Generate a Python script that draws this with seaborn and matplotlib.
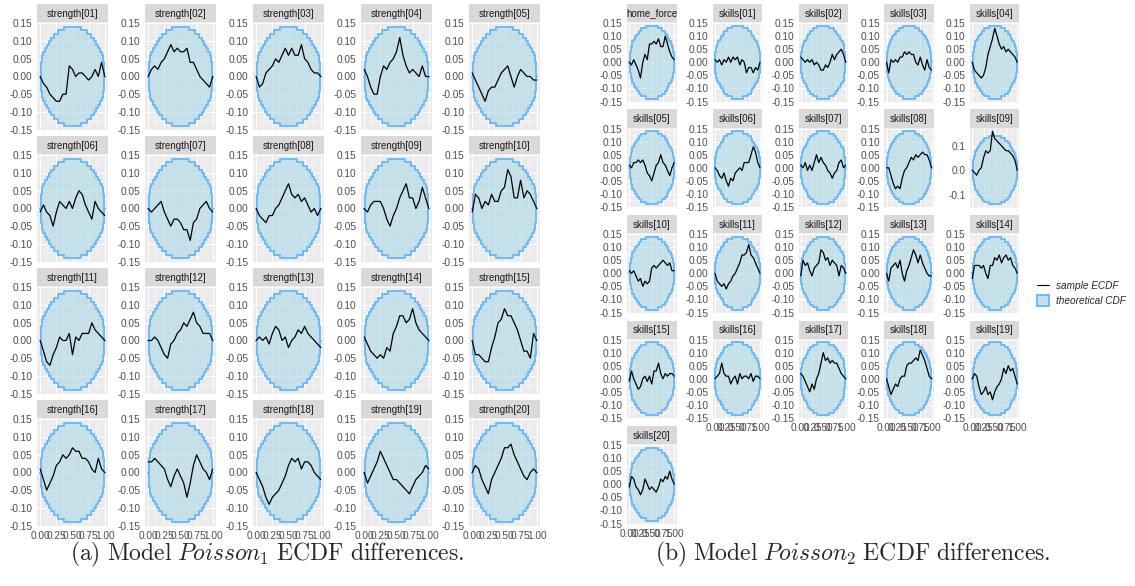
import numpy as np
import pandas as pd
import matplotlib
matplotlib.use("Agg")
import matplotlib.pyplot as plt
from matplotlib.lines import Line2D
from matplotlib.patches import Patch
import seaborn as sns

# quantile positions at which the ECDF differences were read
x_grid = [0.00, 0.05, 0.10, 0.15, 0.20, 0.25, 0.30, 0.35, 0.40, 0.45, 0.50,
          0.55, 0.60, 0.65, 0.70, 0.75, 0.80, 0.85, 0.90, 0.95, 1.00]

# upper edge of the theoretical CDF band (lower edge is the mirror)
band_x = np.linspace(0, 1, 51)
band_upper = [0.00, 0.04, 0.06, 0.07, 0.08, 0.08, 0.09, 0.10, 0.10, 0.11, 0.11,
              0.12, 0.12, 0.12, 0.13, 0.13, 0.13, 0.13, 0.13, 0.14, 0.14, 0.14,
              0.14, 0.14, 0.14, 0.14, 0.14, 0.14, 0.14, 0.14, 0.14, 0.14, 0.13,
              0.13, 0.13, 0.13, 0.13, 0.12, 0.12, 0.12, 0.11, 0.11, 0.10, 0.10,
              0.09, 0.08, 0.08, 0.07, 0.06, 0.04, 0.00]

poisson1_labels = [f"strength[{i:02d}]" for i in range(1, 21)]
poisson1_diff = [
    [0.00, -0.02, -0.03, -0.05, -0.06, -0.07, -0.07, -0.05, -0.05, 0.03, 0.02, 0.00, 0.01, 0.01, 0.00, -0.01, 0.00, 0.02, 0.00, 0.04, 0.00],
    [0.00, 0.02, 0.03, 0.02, 0.04, 0.05, 0.07, 0.09, 0.07, 0.08, 0.07, 0.07, 0.08, 0.04, 0.04, 0.02, 0.00, -0.01, -0.02, -0.03, 0.00],
    [0.00, -0.03, -0.02, 0.01, 0.02, 0.03, 0.05, 0.04, 0.06, 0.08, 0.06, 0.08, 0.06, 0.06, 0.09, 0.05, 0.04, 0.02, 0.01, 0.01, 0.00],
    [0.02, 0.00, -0.03, -0.05, -0.05, 0.00, 0.03, 0.02, 0.04, 0.05, 0.07, 0.11, 0.06, 0.03, 0.01, 0.02, 0.01, 0.00, 0.03, 0.00, 0.00],
    [0.01, -0.01, -0.03, -0.05, -0.07, -0.04, -0.03, -0.03, -0.01, 0.01, 0.02, 0.03, 0.00, -0.03, 0.00, 0.02, 0.01, 0.00, 0.00, -0.01, -0.01],
    [-0.01, 0.01, -0.01, -0.02, -0.05, -0.01, 0.02, 0.01, 0.00, 0.02, 0.00, 0.03, 0.05, 0.04, 0.01, -0.01, -0.03, 0.02, 0.00, -0.01, -0.02],
    [0.00, -0.01, 0.00, 0.01, 0.02, -0.01, -0.03, -0.05, -0.03, -0.03, -0.04, -0.06, -0.06, -0.09, -0.04, -0.03, 0.00, 0.01, 0.02, 0.00, -0.01],
    [0.00, -0.02, -0.03, -0.04, -0.02, -0.02, 0.00, 0.01, 0.03, 0.05, 0.07, 0.04, 0.03, 0.04, 0.02, 0.03, 0.01, -0.01, 0.00, -0.02, 0.00],
    [0.00, -0.01, 0.01, 0.02, 0.02, 0.02, 0.00, -0.03, -0.05, -0.02, 0.00, 0.03, 0.05, 0.07, 0.03, 0.03, 0.00, 0.02, 0.06, 0.03, 0.00],
    [-0.01, 0.04, 0.03, 0.00, 0.02, 0.01, 0.04, 0.02, 0.02, 0.05, 0.06, 0.11, 0.09, 0.03, 0.03, 0.08, 0.03, 0.05, 0.04, 0.02, 0.00],
    [0.00, -0.03, -0.06, -0.07, -0.04, -0.02, 0.01, 0.00, 0.00, 0.02, -0.04, 0.01, 0.00, 0.02, 0.02, 0.02, 0.05, 0.03, 0.02, 0.01, 0.00],
    [0.00, 0.00, 0.01, 0.00, -0.02, -0.04, -0.05, -0.01, 0.00, 0.02, 0.03, 0.05, 0.04, 0.06, 0.08, 0.05, 0.04, 0.02, 0.02, 0.02, 0.00],
    [0.00, 0.01, 0.00, 0.01, -0.01, 0.02, 0.04, 0.03, 0.00, 0.01, -0.02, 0.00, 0.01, 0.03, 0.02, 0.04, 0.02, 0.01, 0.00, -0.01, -0.02],
    [0.01, -0.01, -0.03, -0.04, -0.05, -0.04, -0.05, -0.02, -0.03, 0.02, 0.04, 0.07, 0.07, 0.05, 0.06, 0.09, 0.05, 0.03, 0.02, 0.01, 0.00],
    [0.00, -0.04, -0.04, -0.05, -0.06, -0.06, -0.02, 0.01, 0.05, 0.06, 0.09, 0.07, 0.07, 0.05, 0.03, 0.00, -0.03, -0.03, -0.05, 0.02, 0.00],
    [0.01, -0.02, -0.05, -0.03, -0.01, 0.02, 0.03, 0.05, 0.04, 0.05, 0.07, 0.06, 0.06, 0.04, 0.04, 0.03, 0.01, 0.00, 0.04, 0.01, 0.00],
    [0.03, 0.03, 0.04, 0.03, 0.02, 0.01, -0.02, -0.04, -0.01, 0.01, -0.01, -0.03, -0.07, -0.03, 0.02, 0.05, 0.03, 0.01, 0.00, -0.02, 0.01],
    [0.00, -0.02, -0.04, -0.07, -0.09, -0.07, -0.06, -0.05, -0.03, -0.01, 0.02, 0.04, 0.03, 0.04, 0.01, 0.03, 0.03, 0.02, 0.00, -0.01, -0.02],
    [0.00, -0.03, -0.01, 0.01, 0.03, 0.06, 0.04, 0.02, 0.00, -0.02, -0.02, -0.03, -0.04, -0.05, -0.06, -0.04, -0.02, -0.01, 0.00, 0.02, 0.01],
    [0.00, 0.02, 0.01, -0.02, -0.04, -0.06, -0.02, 0.00, 0.02, 0.04, 0.07, 0.07, 0.08, 0.05, 0.03, 0.01, -0.01, -0.02, 0.00, 0.01, 0.00],
]

poisson2_labels = ["home_force"] + [f"skills[{i:02d}]" for i in range(1, 21)]
poisson2_diff = [
    [0.00, -0.01, 0.01, -0.01, -0.03, -0.06, 0.00, 0.03, 0.01, 0.07, 0.07, 0.08, 0.07, 0.09, 0.06, 0.06, 0.10, 0.07, 0.04, 0.02, 0.01],
    [0.01, 0.00, 0.01, -0.01, 0.01, 0.00, 0.02, 0.00, 0.02, 0.01, 0.02, -0.01, 0.01, 0.00, -0.04, -0.02, -0.02, -0.04, -0.02, -0.03, 0.00],
    [0.02, 0.01, 0.00, 0.01, 0.00, 0.01, -0.01, 0.00, -0.01, -0.03, -0.03, -0.01, -0.02, 0.00, 0.03, 0.01, 0.03, 0.04, 0.05, 0.03, 0.00],
    [0.00, -0.04, 0.01, 0.00, 0.01, 0.00, 0.02, 0.02, 0.04, 0.03, 0.04, 0.03, 0.03, 0.00, -0.01, 0.02, -0.01, -0.03, 0.01, -0.02, -0.03],
    [0.00, -0.03, -0.04, -0.05, -0.06, -0.05, -0.02, 0.03, 0.06, 0.09, 0.13, 0.10, 0.07, 0.05, 0.06, 0.04, 0.05, 0.04, 0.03, 0.02, 0.00],
    [0.01, 0.00, 0.02, 0.02, 0.03, 0.02, 0.03, 0.01, -0.02, -0.03, -0.05, -0.02, 0.01, 0.02, 0.05, 0.02, 0.01, -0.01, -0.03, 0.00, 0.02],
    [0.00, -0.01, -0.03, -0.04, -0.02, -0.05, -0.07, -0.04, -0.05, -0.02, -0.01, 0.00, -0.01, 0.02, 0.02, 0.02, 0.05, 0.08, 0.06, 0.02, 0.00],
    [0.01, 0.00, 0.02, -0.01, 0.01, -0.01, 0.02, 0.05, 0.02, 0.04, 0.02, 0.01, -0.01, -0.02, -0.04, -0.02, -0.01, 0.02, 0.03, 0.00, 0.01],
    [0.00, 0.00, -0.03, -0.06, -0.08, -0.07, -0.08, -0.04, -0.01, 0.00, 0.02, 0.04, 0.03, 0.05, 0.04, 0.05, 0.06, 0.05, 0.05, 0.03, 0.00],
    [0.00, -0.01, -0.02, 0.00, 0.01, 0.05, 0.08, 0.07, 0.08, 0.16, 0.13, 0.12, 0.11, 0.10, 0.09, 0.08, 0.08, 0.07, 0.06, 0.04, 0.00],
    [0.01, 0.00, 0.01, -0.01, -0.03, -0.02, -0.05, -0.03, -0.04, -0.03, 0.02, 0.03, 0.02, 0.03, 0.04, 0.05, 0.04, 0.03, 0.04, 0.01, 0.01],
    [0.00, -0.03, -0.04, -0.05, -0.04, -0.06, -0.04, -0.03, -0.01, 0.00, 0.02, 0.04, 0.07, 0.07, 0.08, 0.11, 0.07, 0.06, 0.04, 0.02, 0.00],
    [-0.01, 0.05, 0.03, 0.04, 0.01, -0.01, 0.02, 0.03, 0.04, 0.09, 0.08, 0.05, 0.06, 0.03, 0.05, 0.04, 0.03, -0.01, 0.03, 0.02, 0.00],
    [0.00, -0.03, 0.02, 0.03, 0.04, 0.02, 0.05, 0.00, -0.03, 0.01, 0.03, 0.06, 0.09, 0.07, 0.04, 0.07, 0.04, 0.02, 0.00, -0.01, -0.01],
    [-0.02, 0.03, 0.03, 0.03, 0.02, 0.03, 0.00, -0.02, 0.03, 0.03, 0.06, 0.05, 0.07, 0.04, 0.06, 0.07, 0.05, 0.06, 0.03, 0.02, 0.00],
    [-0.01, 0.03, 0.00, -0.02, -0.04, -0.03, 0.00, 0.01, -0.01, 0.01, -0.02, 0.03, 0.03, 0.06, 0.02, 0.00, 0.02, 0.01, 0.02, 0.02, 0.01],
    [0.00, 0.01, 0.02, 0.06, 0.02, 0.01, 0.01, -0.02, 0.00, 0.01, -0.02, 0.02, 0.00, 0.01, 0.01, 0.00, 0.02, -0.01, 0.01, 0.01, 0.00],
    [0.02, 0.01, -0.01, -0.03, -0.05, -0.02, -0.04, 0.00, 0.02, 0.06, 0.10, 0.07, 0.08, 0.06, 0.07, 0.06, 0.06, 0.04, 0.02, 0.01, 0.00],
    [0.00, -0.03, -0.06, -0.04, -0.02, -0.03, 0.00, 0.01, 0.01, 0.05, 0.06, 0.06, 0.07, 0.08, 0.07, 0.11, 0.09, 0.07, 0.04, 0.01, 0.00],
    [0.00, 0.02, 0.01, -0.03, -0.06, -0.05, -0.03, -0.06, -0.05, -0.08, -0.05, -0.03, -0.02, 0.00, 0.04, 0.02, 0.05, 0.03, 0.04, 0.01, -0.02],
    [-0.01, 0.03, 0.02, -0.01, -0.02, -0.04, -0.02, 0.02, 0.00, -0.02, -0.01, -0.02, -0.03, -0.01, 0.02, 0.01, 0.03, 0.02, 0.05, 0.02, 0.00],
]

BAND_FILL = "#ADD8E6"
BAND_EDGE = "#6DBAF8"

sns.set_theme(style="darkgrid", rc={
    "axes.facecolor": "#EBEBEB",
    "grid.color": "white",
    "axes.unicode_minus": False,
    "mathtext.fontset": "cm",
})
plt.rcParams["font.family"] = ["Liberation Sans", "DejaVu Sans"]

W, H = 1135, 586
fig = plt.figure(figsize=(W / 100, H / 100), dpi=100)
fig.patch.set_facecolor("white")


def px_axes(left, top, width, height):
    return fig.add_axes([left / W, 1 - (top + height) / H, width / W, height / H])


def draw_panel(label, values, left, top, width, strip_h, plot_h, show_x):
    strip = px_axes(left, top, width, strip_h)
    strip.set_facecolor("#D9D9D9")
    strip.set_xticks([])
    strip.set_yticks([])
    strip.grid(False)
    for s in strip.spines.values():
        s.set_visible(False)
    strip.text(0.5, 0.47, label, transform=strip.transAxes, ha="center",
               va="center", fontsize=7, color="#1A1A1A", clip_on=True)

    ax = px_axes(left, top + strip_h, width, plot_h)
    up = np.array(band_upper)
    ax.fill_between(band_x, -up, up, step="mid", color=BAND_FILL, alpha=0.6,
                    lw=0, zorder=2)
    ax.plot(band_x, up, drawstyle="steps-mid", color=BAND_EDGE, lw=1.4, zorder=3)
    ax.plot(band_x, -up, drawstyle="steps-mid", color=BAND_EDGE, lw=1.4, zorder=3)

    df = pd.DataFrame({"x": x_grid, "diff": values})
    sns.lineplot(data=df, x="x", y="diff", ax=ax, color="black", lw=0.9,
                 estimator=None, zorder=4)

    # free y scale, expanded 5% like ggplot
    lo = min(-up.max(), min(values))
    hi = max(up.max(), max(values))
    pad = 0.05 * (hi - lo)
    ax.set_ylim(lo - pad, hi + pad)
    ax.set_xlim(-0.05, 1.05)
    if hi - lo > 0.295:
        major = [-0.1, 0.0, 0.1]
        minor = [-0.15, -0.05, 0.05, 0.15]
        ylabels = [f"{v:.1f}" for v in major]
    else:
        major = [-0.15, -0.10, -0.05, 0.0, 0.05, 0.10, 0.15]
        minor = [-0.125, -0.075, -0.025, 0.025, 0.075, 0.125]
        ylabels = [f"{v:.2f}" for v in major]
    ax.set_yticks(major)
    ax.set_yticklabels(ylabels)
    ax.set_yticks(minor, minor=True)
    ax.set_xticks([0, 0.25, 0.5, 0.75, 1.0])
    ax.set_xticklabels(["0.00", "0.25", "0.50", "0.75", "1.00"])
    ax.set_xticks([0.125, 0.375, 0.625, 0.875], minor=True)

    ax.grid(which="major", color="white", lw=0.75)
    ax.grid(which="minor", color="white", lw=0.35)
    ax.set_axisbelow(True)
    for s in ax.spines.values():
        s.set_visible(False)
    ax.tick_params(which="minor", length=0)
    ax.tick_params(which="major", length=2.2, width=0.6, color="#333333",
                   labelsize=7.3, labelcolor="#4D4D4D", pad=0.9)
    if not show_x:
        ax.tick_params(axis="x", which="major", length=0, labelbottom=False)
    ax.set_xlabel("")
    ax.set_ylabel("")


# (a) Poisson_1 : 5 x 4 grid
for i, (lab, vals) in enumerate(zip(poisson1_labels, poisson1_diff)):
    r, c = divmod(i, 5)
    draw_panel(lab, vals, 37 + 108 * c, 4 + 132 * r, 71, 18, 109, r == 3)

# (b) Poisson_2 : 5 x 5 grid with 21 panels
for i, (lab, vals) in enumerate(zip(poisson2_labels, poisson2_diff)):
    r, c = divmod(i, 5)
    show = (r == 4) or (r == 3 and c >= 1)
    draw_panel(lab, vals, 627 + 85.75 * c, 4 + 105.5 * r, 49.5, 18, 80.6, show)

handles = [Line2D([], [], color="black", lw=0.8),
           Patch(facecolor="#C6DFEC", edgecolor=BAND_EDGE, lw=1.4)]
fig.legend(handles, ["sample ECDF", "theoretical CDF"], loc="center left",
           bbox_to_anchor=(1032 / W, 1 - 293 / H), frameon=False,
           prop={"family": "Liberation Sans", "style": "italic", "size": 7.2},
           handlelength=1.2, handleheight=1.4, labelspacing=0.3,
           handletextpad=0.7, borderpad=0)

fig.text(267 / W, 1 - 554 / H,
         r"$\mathrm{(a)\ Model\ }Poisson_1\mathrm{\ ECDF\ differences.}$",
         ha="center", va="center", fontsize=17)
fig.text(853 / W, 1 - 554 / H,
         r"$\mathrm{(b)\ Model\ }Poisson_2\mathrm{\ ECDF\ differences.}$",
         ha="center", va="center", fontsize=17)

fig.savefig("out.png", dpi=100)
